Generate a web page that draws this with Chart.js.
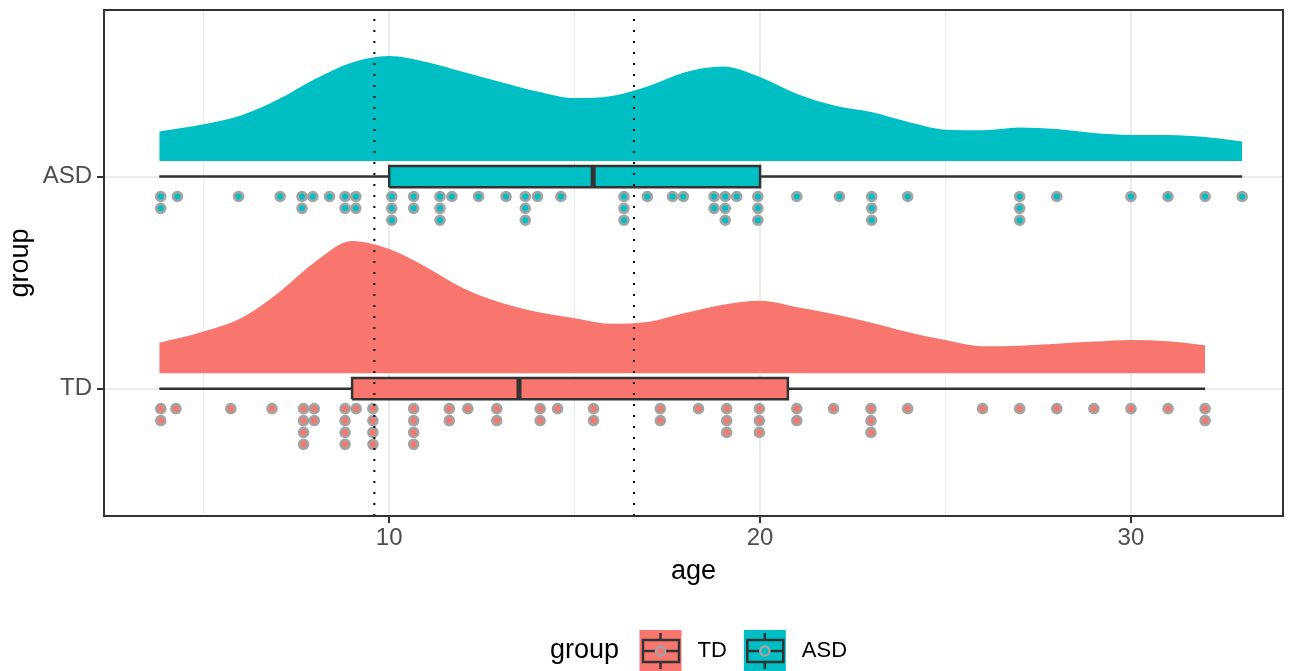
<!DOCTYPE html>
<html>
<head>
<meta charset="utf-8">
<title>age by group</title>
<script src="https://cdn.jsdelivr.net/npm/chart.js@4.4.1/dist/chart.umd.min.js"></script>
<style>
  html, body { margin: 0; padding: 0; background: #fff; }
</style>
</head>
<body>
<canvas id="raincloud" width="1300" height="671"></canvas>
<script>
// groups on the y axis (bottom to top)
const groups = ['TD', 'ASD'];
const groupColors = ['#F8766D', '#00BFC4'];

// box plot stats, one value per group
const boxMin = [3.8, 3.8];
const boxQ1 = [9, 10];
const boxMedian = [13.5, 15.5];
const boxQ3 = [20.75, 20];
const boxMax = [32, 33];

// dotted reference lines
const refLines = [9.6, 16.6];

// density (half violin) heights
const densityAges = [3.8, 5, 6, 7, 8, 9, 10, 11, 12, 13, 14, 15, 16, 17, 18, 19, 20, 21, 22, 23, 24, 25, 26, 27, 28, 29, 30, 31, 32, 33];
const tdDensity = [0.144, 0.197, 0.259, 0.377, 0.524, 0.623, 0.585, 0.500, 0.401, 0.333, 0.288, 0.259, 0.233, 0.243, 0.285, 0.323, 0.341, 0.311, 0.278, 0.238, 0.193, 0.156, 0.127, 0.130, 0.139, 0.149, 0.157, 0.151, 0.132];
const asdDensity = [0.139, 0.173, 0.215, 0.290, 0.387, 0.465, 0.495, 0.467, 0.420, 0.373, 0.328, 0.297, 0.307, 0.354, 0.420, 0.446, 0.396, 0.316, 0.262, 0.231, 0.184, 0.148, 0.145, 0.158, 0.151, 0.132, 0.123, 0.123, 0.113, 0.092];

// dot plot: bin position and how many dots are stacked there
const tdDotAges = [3.84, 4.25, 5.73, 6.84, 7.69, 7.98, 8.81, 9.11, 9.56, 10.66, 11.62, 12.12, 12.9, 14.07, 14.54, 15.51, 17.31, 18.34, 19.1, 19.98, 20.99, 21.98, 22.99, 23.98, 26, 27, 28, 29, 30, 31, 32];
const tdDotCounts = [2, 1, 1, 1, 4, 2, 4, 1, 4, 4, 2, 1, 2, 2, 1, 2, 2, 1, 3, 3, 2, 1, 3, 1, 1, 1, 1, 1, 1, 1, 2];
const asdDotAges = [3.84, 4.29, 5.94, 7.06, 7.65, 7.94, 8.39, 8.81, 9.1, 10.07, 10.66, 11.37, 11.69, 12.41, 13.15, 13.67, 14.0, 14.63, 16.33, 16.96, 17.64, 17.93, 18.76, 19.06, 19.37, 19.94, 20.99, 22.14, 23.01, 23.98, 27, 28, 30, 31, 32, 33];
const asdDotCounts = [2, 1, 1, 1, 2, 1, 1, 2, 2, 3, 2, 3, 1, 1, 1, 3, 1, 1, 3, 1, 1, 1, 2, 3, 1, 3, 1, 1, 3, 1, 3, 1, 1, 1, 1, 1];

const xTicks = [5, 10, 15, 20, 25, 30];
const xMin = 2.31, xMax = 34.1;
const yMin = 0.4, yMax = 2.785;

// layout of each cloud relative to its group line
const slabOffset = 0.073;
const boxHalf = 0.05;
const dotGap = 0.094;
const dotStep = 0.056;

const FONT = '"Liberation Sans", Arial, Helvetica, sans-serif';
Chart.defaults.font.family = FONT;

const densities = [tdDensity, asdDensity];
const dotAges = [tdDotAges, asdDotAges];
const dotCounts = [tdDotCounts, asdDotCounts];

let datasets = [];

// reference lines on top
refLines.forEach(function (v) {
  datasets.push({
    data: [{x: v, y: yMin}, {x: v, y: yMax}],
    borderColor: '#000', borderWidth: 2, borderDash: [2, 9],
    pointRadius: 0, fill: false, order: 0
  });
});

groups.forEach(function (g, i) {
  const yPos = i + 1;
  const color = groupColors[i];

  // dots
  let dots = [];
  dotAges[i].forEach(function (age, j) {
    for (let k = 0; k < dotCounts[i][j]; k++) {
      dots.push({x: age, y: yPos - dotGap - k * dotStep});
    }
  });
  datasets.push({
    data: dots, showLine: false,
    pointRadius: 4.4, pointBorderWidth: 2.8,
    pointBackgroundColor: color, pointBorderColor: '#a3a3a3',
    order: 1
  });

  // median
  datasets.push({
    data: [{x: boxMedian[i], y: yPos - boxHalf}, {x: boxMedian[i], y: yPos + boxHalf}],
    borderColor: '#333333', borderWidth: 5, pointRadius: 0, fill: false, order: 2
  });

  // box outline
  datasets.push({
    data: [
      {x: boxQ1[i], y: yPos - boxHalf}, {x: boxQ1[i], y: yPos + boxHalf},
      {x: boxQ3[i], y: yPos + boxHalf}, {x: boxQ3[i], y: yPos - boxHalf},
      {x: boxQ1[i], y: yPos - boxHalf}
    ],
    borderColor: '#333333', borderWidth: 2.5, borderJoinStyle: 'miter',
    pointRadius: 0, fill: false, order: 3
  });

  // box fill
  datasets.push({
    data: [{x: boxQ1[i], y: yPos + boxHalf}, {x: boxQ3[i], y: yPos + boxHalf}],
    borderWidth: 0, pointRadius: 0,
    backgroundColor: color, fill: {value: yPos - boxHalf}, order: 4
  });

  // whiskers
  datasets.push({
    data: [{x: boxMin[i], y: yPos}, {x: boxMax[i], y: yPos}],
    borderColor: '#333333', borderWidth: 2.5, pointRadius: 0, fill: false, order: 5
  });

  // density slab
  datasets.push({
    data: densities[i].map(function (d, j) {
      return {x: densityAges[j], y: yPos + slabOffset + d};
    }),
    borderWidth: 0, pointRadius: 0, cubicInterpolationMode: 'monotone',
    backgroundColor: color, fill: {value: yPos + slabOffset}, order: 6
  });
});

// panel border + legend at the bottom
const panelAndLegend = {
  id: 'panelAndLegend',
  afterDraw(chart) {
    const ctx = chart.ctx;
    const area = chart.chartArea;
    ctx.save();
    ctx.strokeStyle = '#333333';
    ctx.lineWidth = 2;
    ctx.strokeRect(area.left, area.top, area.right - area.left, area.bottom - area.top);

    const cy = 651;
    ctx.textBaseline = 'middle';
    ctx.textAlign = 'left';
    ctx.fillStyle = '#000';
    ctx.font = '27px ' + FONT;
    ctx.fillText('group', 550, cy);

    let x = 639.5;
    groups.forEach(function (g, i) {
      const color = groupColors[i];
      const cx = x + 21;
      ctx.fillStyle = color;
      ctx.fillRect(x, cy - 21, 42, 42);
      ctx.strokeStyle = '#333333';
      ctx.lineWidth = 2.5;
      ctx.beginPath();
      ctx.moveTo(cx, cy - 18); ctx.lineTo(cx, cy - 11);
      ctx.moveTo(cx, cy + 11); ctx.lineTo(cx, cy + 18);
      ctx.moveTo(x + 3.5, cy); ctx.lineTo(x + 39.5, cy);
      ctx.stroke();
      ctx.strokeRect(x + 3.5, cy - 11, 36, 22);
      ctx.beginPath();
      ctx.arc(cx, cy, 4.6, 0, Math.PI * 2);
      ctx.fillStyle = color;
      ctx.fill();
      ctx.strokeStyle = '#a3a3a3';
      ctx.stroke();

      ctx.fillStyle = '#000';
      ctx.font = '22px ' + FONT;
      const tx = x + 58;
      ctx.fillText(g, tx, cy);
      x = tx + ctx.measureText(g).width + 17;
    });
    ctx.restore();
  }
};

const ctxRaincloud = document.querySelector('#raincloud').getContext('2d');
const raincloudChart = new Chart(ctxRaincloud, {
  type: 'line',
  data: {datasets: datasets},
  options: {
    responsive: false,
    animation: false,
    layout: {padding: {left: 0, right: 17, top: 10, bottom: 83}},
    plugins: {
      legend: {display: false},
      tooltip: {enabled: false}
    },
    scales: {
      x: {
        type: 'linear', min: xMin, max: xMax,
        afterBuildTicks: function (scale) {
          scale.ticks = xTicks.map(function (v) { return {value: v}; });
        },
        afterFit: function (scale) {
          scale.height = 72;
          scale.paddingLeft = 0;
          scale.paddingRight = 0;
        },
        ticks: {
          autoSkip: false, maxRotation: 0, padding: 1,
          color: '#4d4d4d', font: {size: 24},
          callback: function (v) { return v % 10 === 0 ? String(v) : ''; }
        },
        grid: {
          color: '#ebebeb',
          lineWidth: function (c) { return c.tick && c.tick.value % 10 === 0 ? 2 : 1; },
          tickColor: function (c) { return c.tick && c.tick.value % 10 === 0 ? '#333333' : 'rgba(0,0,0,0)'; },
          tickWidth: 2, tickLength: 7
        },
        border: {display: false},
        title: {display: true, text: 'age', color: '#000', font: {size: 27}, padding: {top: 0, bottom: 0}}
      },
      y: {
        type: 'linear', min: yMin, max: yMax,
        afterBuildTicks: function (scale) {
          scale.ticks = groups.map(function (g, i) { return {value: i + 1}; });
        },
        afterFit: function (scale) {
          scale.width = 104;
          scale.paddingTop = 0;
          scale.paddingBottom = 0;
        },
        ticks: {
          padding: 5, color: '#4d4d4d', font: {size: 24},
          callback: function (v) { return groups[v - 1] || ''; }
        },
        grid: {color: '#ebebeb', lineWidth: 2, tickColor: '#333333', tickWidth: 2, tickLength: 7},
        border: {display: false},
        title: {display: true, text: 'group', color: '#000', font: {size: 27}, padding: {top: 4, bottom: 0}}
      }
    }
  },
  plugins: [panelAndLegend]
});
</script>
</body>
</html>
